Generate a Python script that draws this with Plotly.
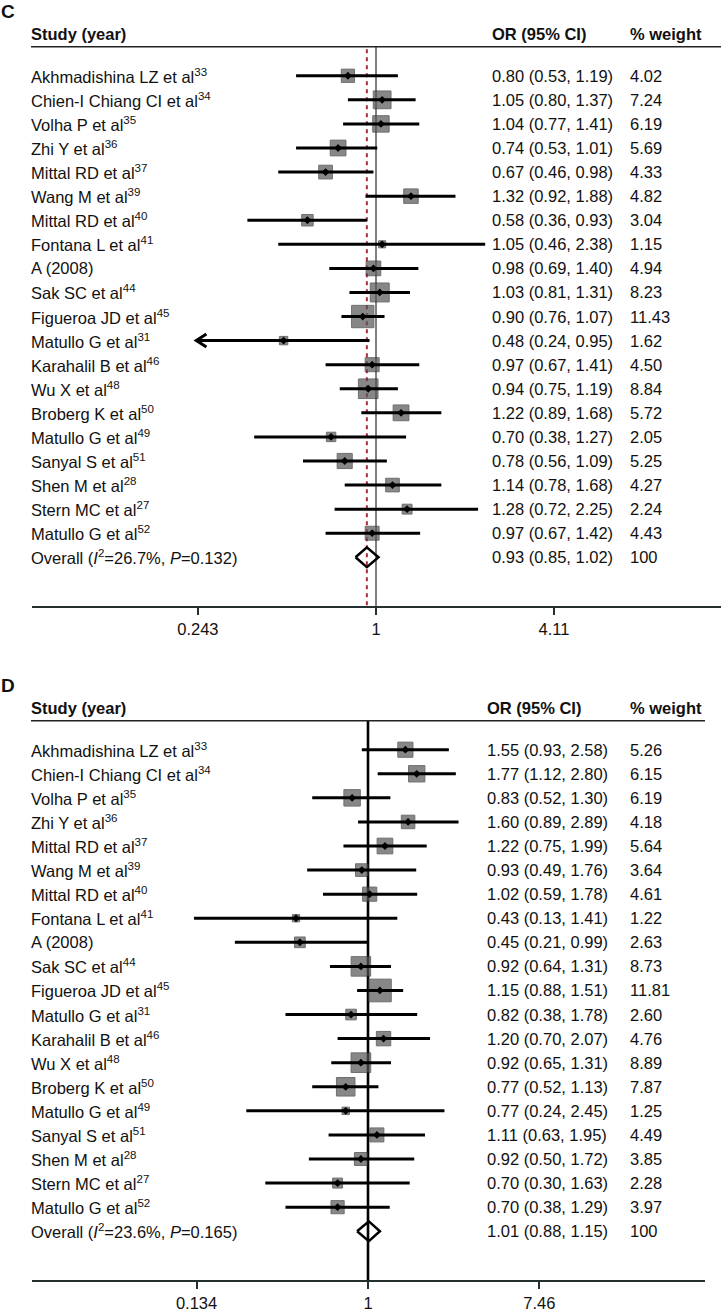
import math
import plotly.graph_objects as go

# =======================
# Dati
# =======================

studies = [
    "Akhmadishina LZ et al<sup>33</sup>", "Chien-I Chiang CI et al<sup>34</sup>",
    "Volha P et al<sup>35</sup>", "Zhi Y et al<sup>36</sup>", "Mittal RD et al<sup>37</sup>",
    "Wang M et al<sup>39</sup>", "Mittal RD et al<sup>40</sup>", "Fontana L et al<sup>41</sup>",
    "A (2008)", "Sak SC et al<sup>44</sup>", "Figueroa JD et al<sup>45</sup>",
    "Matullo G et al<sup>31</sup>", "Karahalil B et al<sup>46</sup>", "Wu X et al<sup>48</sup>",
    "Broberg K et al<sup>50</sup>", "Matullo G et al<sup>49</sup>", "Sanyal S et al<sup>51</sup>",
    "Shen M et al<sup>28</sup>", "Stern MC et al<sup>27</sup>", "Matullo G et al<sup>52</sup>",
]

# pannello C
or_c = [0.80, 1.05, 1.04, 0.74, 0.67, 1.32, 0.58, 1.05, 0.98, 1.03,
        0.90, 0.48, 0.97, 0.94, 1.22, 0.70, 0.78, 1.14, 1.28, 0.97]
lo_c = [0.53, 0.80, 0.77, 0.53, 0.46, 0.92, 0.36, 0.46, 0.69, 0.81,
        0.76, 0.24, 0.67, 0.75, 0.89, 0.38, 0.56, 0.78, 0.72, 0.67]
hi_c = [1.19, 1.37, 1.41, 1.01, 0.98, 1.88, 0.93, 2.38, 1.40, 1.31,
        1.07, 0.95, 1.41, 1.19, 1.68, 1.27, 1.09, 1.68, 2.25, 1.42]
w_c = [4.02, 7.24, 6.19, 5.69, 4.33, 4.82, 3.04, 1.15, 4.94, 8.23,
       11.43, 1.62, 4.50, 8.84, 5.72, 2.05, 5.25, 4.27, 2.24, 4.43]
overall_c = (0.93, 0.85, 1.02)
het_c = ("26.7%", "0.132")
ticks_c = [0.243, 1, 4.11]
ticktext_c = ["0.243", "1", "4.11"]
arrows_c = [11]  # righe con IC troncato a sinistra

# pannello D
or_d = [1.55, 1.77, 0.83, 1.60, 1.22, 0.93, 1.02, 0.43, 0.45, 0.92,
        1.15, 0.82, 1.20, 0.92, 0.77, 0.77, 1.11, 0.92, 0.70, 0.70]
lo_d = [0.93, 1.12, 0.52, 0.89, 0.75, 0.49, 0.59, 0.13, 0.21, 0.64,
        0.88, 0.38, 0.70, 0.65, 0.52, 0.24, 0.63, 0.50, 0.30, 0.38]
hi_d = [2.58, 2.80, 1.30, 2.89, 1.99, 1.76, 1.78, 1.41, 0.99, 1.31,
        1.51, 1.78, 2.07, 1.31, 1.13, 2.45, 1.95, 1.72, 1.63, 1.29]
w_d = [5.26, 6.15, 6.19, 4.18, 5.64, 3.64, 4.61, 1.22, 2.63, 8.73,
       11.81, 2.60, 4.76, 8.89, 7.87, 1.25, 4.49, 3.85, 2.28, 3.97]
overall_d = (1.01, 0.88, 1.15)
het_d = ("23.6%", "0.165")
ticks_d = [0.134, 1, 7.46]
ticktext_d = ["0.134", "1", "7.46"]
arrows_d = []

# =======================
# Impaginazione (pixel)
# =======================
W, H = 721, 1312
PITCH = 24.15
FONT = "Liberation Sans, Arial, sans-serif"
FS = 16.5

fig = go.Figure()
annotations = []
shapes = []


def add_panel(n, label, ors, los, his, ws, overall, het, ticks, ticktext, arrows,
              top, first_px, axis_px, one_px, ln_px, right_px, or_x, wt_x,
              dashed, vline_color, vline_w):
    xa = "x" if n == 1 else f"x{n}"
    ya = "y" if n == 1 else f"y{n}"
    row = lambda px: (px - first_px) / PITCH
    nrow = len(ors)
    r_over = nrow
    r_axis = row(axis_px)
    r_head = row(first_px - 29)

    # linee verticali (nullità e stima complessiva)
    fig.add_trace(go.Scatter(x=[1, 1], y=[r_head, r_axis], mode="lines", xaxis=xa, yaxis=ya,
                             line=dict(color=vline_color, width=vline_w), hoverinfo="skip"))
    if dashed:
        fig.add_trace(go.Scatter(x=[overall[0]] * 2, y=[r_head + 0.1, r_axis], mode="lines",
                                 xaxis=xa, yaxis=ya,
                                 line=dict(color="#b02a3a", width=2, dash="4px,4px"),
                                 hoverinfo="skip"))
    # quadrati pesati
    fig.add_trace(go.Scatter(
        x=ors, y=list(range(nrow)), mode="markers", xaxis=xa, yaxis=ya,
        marker=dict(symbol="square", size=[6.6 * math.sqrt(w) for w in ws],
                    color="#555555", line=dict(color="#333333", width=1)),
        hoverinfo="skip"))
    # IC
    xs, ys = [], []
    for i in range(nrow):
        xs += [los[i], his[i], None]
        ys += [i, i, None]
    for i in arrows:
        d = math.exp(0.08)
        xs += [los[i] * d, los[i], los[i] * d, None]
        ys += [i - 0.27, i, i + 0.27, None]
    fig.add_trace(go.Scatter(x=xs, y=ys, mode="lines", xaxis=xa, yaxis=ya,
                             line=dict(color="black", width=3), hoverinfo="skip"))
    # stime puntuali
    fig.add_trace(go.Scatter(x=ors, y=list(range(nrow)), mode="markers", xaxis=xa, yaxis=ya,
                             marker=dict(symbol="diamond", size=6, color="black"),
                             hoverinfo="skip"))
    # rombo complessivo
    est, lo, hi = overall
    fig.add_trace(go.Scatter(x=[lo, est, hi, est, lo], y=[r_over, r_over - 0.41, r_over,
                                                           r_over + 0.41, r_over],
                             mode="lines", xaxis=xa, yaxis=ya,
                             line=dict(color="black", width=2.5), hoverinfo="skip"))

    # testi
    def txt(x_px, r, s, bold=False, size=FS):
        annotations.append(dict(
            x=(x_px - 2) / W, y=r, xref="paper", yref=ya, text=f"<b>{s}</b>" if bold else s,
            showarrow=False, xanchor="left", yanchor="middle",
            font=dict(family=FONT, size=size, color="#111")))

    txt(1, row(top + 12), label, bold=True, size=19)
    txt(31, row(first_px - 42), "Study (year)", bold=True)
    txt(or_x, row(first_px - 42), "OR (95% CI)", bold=True)
    txt(wt_x, row(first_px - 42), "% weight", bold=True)
    for i in range(nrow):
        txt(31, i, studies[i])
        txt(or_x, i, f"{ors[i]:.2f} ({los[i]:.2f}, {his[i]:.2f})")
        txt(wt_x, i, f"{ws[i]:.2f}")
    txt(31, r_over, f"Overall (<i>I</i><sup>2</sup>={het[0]}, <i>P</i>={het[1]})")
    txt(or_x, r_over, f"{est:.2f} ({lo:.2f}, {hi:.2f})")
    txt(wt_x, r_over, "100")

    shapes.append(dict(type="line", xref="paper", yref=ya, x0=31 / W, x1=right_px / W,
                       y0=r_head, y1=r_head, line=dict(color="#222", width=1.5)))

    left_px = 32
    rng = [(left_px - one_px) / ln_px / math.log(10), (right_px - one_px) / ln_px / math.log(10)]
    dom_y = [1 - axis_px / H, 1 - top / H]
    fig.layout[("xaxis" if n == 1 else f"xaxis{n}")] = dict(
        type="log", range=rng, domain=[left_px / W, right_px / W], anchor=ya,
        showgrid=False, zeroline=False, showline=True, linecolor="#24302f", linewidth=1.8,
        ticks="outside", ticklen=7, tickwidth=2, tickcolor="#24302f",
        tickvals=ticks, ticktext=ticktext, tickfont=dict(family=FONT, size=FS, color="#111"),
        fixedrange=True)
    fig.layout[("yaxis" if n == 1 else f"yaxis{n}")] = dict(
        range=[row(axis_px), row(top)], domain=dom_y, anchor=xa, visible=False,
        fixedrange=True)


add_panel(1, "C", or_c, lo_c, hi_c, w_c, overall_c, het_c, ticks_c, ticktext_c, arrows_c,
          top=0, first_px=76, axis_px=608, one_px=376, ln_px=125.9, right_px=721,
          or_x=492, wt_x=630, dashed=True, vline_color="#4a4a4a", vline_w=1.4)
add_panel(2, "D", or_d, lo_d, hi_d, w_d, overall_d, het_d, ticks_d, ticktext_d, arrows_d,
          top=676, first_px=752, axis_px=1284, one_px=368, ln_px=85.3, right_px=705,
          or_x=487, wt_x=630, dashed=False, vline_color="black", vline_w=2.6)

fig.update_layout(
    width=W, height=H, margin=dict(l=0, r=0, t=0, b=0),
    paper_bgcolor="white", plot_bgcolor="white", showlegend=False,
    annotations=annotations, shapes=shapes,
)

# la pagina ha un margine di 8px sul body: lo azzero; niente modebar
fig.write_html("out.html", config={"displayModeBar": False},
               post_script="document.body.style.margin='0px';")
